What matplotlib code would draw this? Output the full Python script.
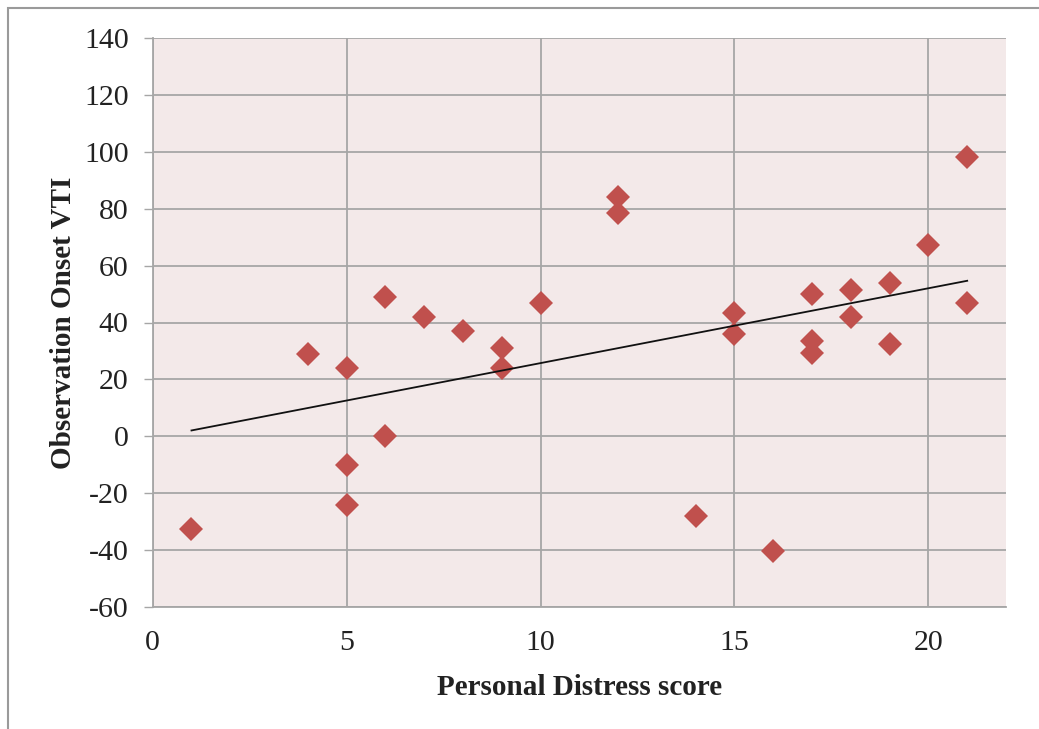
import numpy as np
import matplotlib
matplotlib.use("Agg")
import matplotlib.pyplot as plt
from matplotlib.patches import Rectangle

# Data
distress = [1, 4, 5, 5, 5, 6, 6, 7, 8, 9, 9, 10, 12, 12, 14, 15, 15, 16,
            17, 17, 17, 18, 18, 19, 19, 20, 21, 21]
vti = [-32.7, 29, 24, -10.1, -24.3, 49, 0.1, 42, 37, 31, 24, 47, 84.1, 78.5,
       -28, 43.2, 35.8, -40.5, 49.9, 33.4, 29.2, 51.6, 41.9, 53.8, 32.5,
       67.2, 98.2, 47]
x_ticks = [0, 5, 10, 15, 20]
y_ticks = [-60, -40, -20, 0, 20, 40, 60, 80, 100, 120, 140]

W, H = 1039, 729
plt.rcParams['font.family'] = ['Liberation Serif', 'DejaVu Serif']
plt.rcParams['axes.unicode_minus'] = False
fig = plt.figure(figsize=(W / 100, H / 100), dpi=100)

# outer frame
fig.patches.append(Rectangle((8 / W, -0.1), 1.2, 1 - 8 / H + 0.1,
                             transform=fig.transFigure, fill=False,
                             edgecolor='#9a9a9a', linewidth=1.5))

ax = fig.add_axes([152.7 / W, 1 - 606.7 / H, (1006 - 152.7) / W, (606.7 - 38.3) / H])
ax.set_facecolor('#F3E9E9')

ax.set_xlim(0, 22)
ax.set_ylim(-60, 140)
ax.set_xticks(x_ticks)
ax.set_yticks(y_ticks)
ax.grid(True, color='#A6A6A6', linewidth=1.3)
ax.set_axisbelow(True)

for side in ['top', 'right']:
    ax.spines[side].set_visible(False)
for side in ['left', 'bottom']:
    ax.spines[side].set_color('#A6A6A6')
    ax.spines[side].set_linewidth(1.3)

ax.tick_params(axis='y', direction='out', length=6.3, width=1.0, color='#A6A6A6',
               labelsize=21.5, pad=11, labelcolor='#222222')
ax.tick_params(axis='x', length=0, labelsize=21.5, pad=17, labelcolor='#222222')

ax.plot(distress, vti, linestyle='none', marker='D', markersize=12.5,
        color='#C0504D', markeredgewidth=0, zorder=3)

coef = np.polyfit(distress, vti, 1)
xs = np.array([min(distress), max(distress)])
ax.plot(xs, np.polyval(coef, xs), color='#111111', linewidth=1.3, zorder=4)

ax.set_xlabel('Personal Distress score', fontsize=21, fontweight='bold',
              labelpad=13, color='#222222')
ax.set_ylabel('Observation Onset VTI', fontsize=21, fontweight='bold',
              labelpad=5, color='#222222')

fig.savefig('out.png', dpi=100)
